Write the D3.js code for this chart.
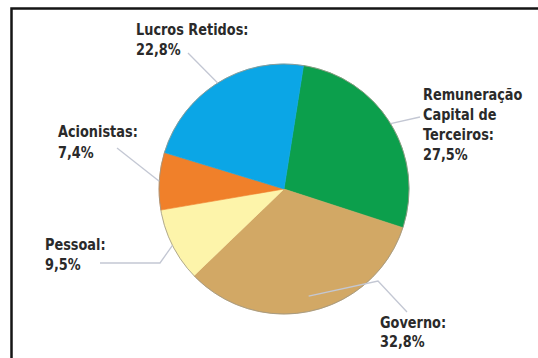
<!DOCTYPE html>
<html>
<head>
<meta charset="utf-8">
<script src="https://cdn.jsdelivr.net/npm/d3@7"></script>
<style>
  html, body { margin: 0; padding: 0; background: #fff; }
  svg { display: block; }
  .lbl { font-family: "DejaVu Sans", "Liberation Sans", sans-serif; font-weight: bold; fill: #2a2a2a; }
</style>
</head>
<body>
<svg id="chart" width="538" height="358"></svg>
<script>
// data
const categories = ["Remuneração Capital de Terceiros", "Governo", "Pessoal", "Acionistas", "Lucros Retidos"];
const values = [27.5, 32.8, 9.5, 7.4, 22.8];
const valueLabels = ["27,5%", "32,8%", "9,5%", "7,4%", "22,8%"];
const labelLines = [
  ["Remuneração", "Capital de", "Terceiros:"],
  ["Governo:"],
  ["Pessoal:"],
  ["Acionistas:"],
  ["Lucros Retidos:"]
];
const colors = ["#0c9f4c", "#d2a865", "#fdf4aa", "#f0802a", "#0ba6e6"];

// label layout (text anchor, leader end and optional elbow)
const labelLayout = [
  { x: 423, y: 100, lh: 20, end: [420, 117] },
  { x: 380, y: 328, lh: 19, end: [407, 312], elbow: [378, 281], edge: 0.88 },
  { x: 45, y: 250, lh: 20, end: [100, 263], elbow: [160, 263] },
  { x: 58, y: 137, lh: 21, end: [117, 148] },
  { x: 136, y: 35, lh: 20, end: [188, 53] }
];

const svg = d3.select("#chart");
const cx = 284, cy = 189, radius = 125;

// frame
svg.append("rect")
  .attr("x", 11.5).attr("y", 8.5)
  .attr("width", 540).attr("height", 360)
  .attr("fill", "none")
  .attr("stroke", "#151515")
  .attr("stroke-width", 2.5);

const data = categories.map((c, i) => ({ name: c, value: values[i], idx: i }));

const startA = 9 * Math.PI / 180;
const pie = d3.pie()
  .sort(null)
  .value(d => d.value)
  .startAngle(startA)
  .endAngle(startA + 2 * Math.PI);

const arcs = pie(data);
const arc = d3.arc().innerRadius(0).outerRadius(radius);

const g = svg.append("g").attr("transform", `translate(${cx},${cy})`);

g.selectAll("path.slice")
  .data(arcs).enter()
  .append("path")
  .attr("class", "slice")
  .attr("d", arc)
  .attr("fill", d => colors[d.data.idx])
  .attr("stroke", d => colors[d.data.idx])
  .attr("stroke-width", 0.6);

g.append("circle")
  .attr("r", radius)
  .attr("fill", "none")
  .attr("stroke", "#9c9684")
  .attr("stroke-width", 0.8);

// leader lines
arcs.forEach(d => {
  const lay = labelLayout[d.data.idx];
  const er = radius * (lay.edge || 1);
  const edgeArc = d3.arc().innerRadius(er).outerRadius(er);
  const p = edgeArc.centroid(d);
  const pts = [[cx + p[0], cy + p[1]]];
  if (lay.elbow) pts.push(lay.elbow);
  pts.push(lay.end);
  svg.append("path")
    .attr("d", d3.line()(pts))
    .attr("fill", "none")
    .attr("stroke", "#c3c7d3")
    .attr("stroke-width", 1.3);
});

// labels (condensed look via horizontal squeeze)
data.forEach(d => {
  const lay = labelLayout[d.idx];
  const lines = labelLines[d.idx].concat([valueLabels[d.idx]]);
  const t = svg.append("text")
    .attr("class", "lbl")
    .attr("font-size", "15px")
    .attr("transform", `translate(${lay.x},${lay.y}) scale(0.86,1)`);
  lines.forEach((s, k) => {
    t.append("tspan")
      .attr("x", 0)
      .attr("y", k * lay.lh)
      .text(s);
  });
});
</script>
</body>
</html>
